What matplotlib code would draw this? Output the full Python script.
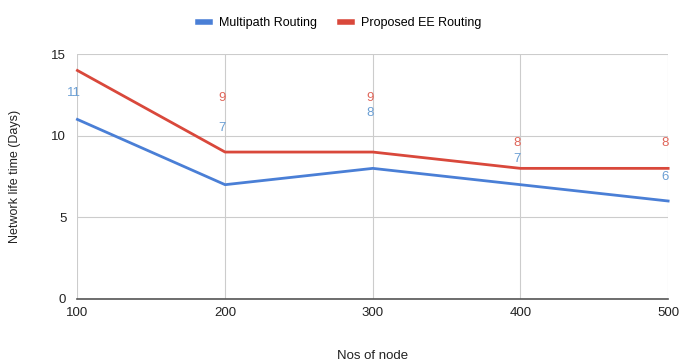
import numpy as np
import matplotlib.pyplot as plt

plt.rcParams["font.family"] = ["Liberation Sans", "DejaVu Sans"]

nodes = [100, 200, 300, 400, 500]
multipath = [11, 7, 8, 7, 6]
proposed = [14, 9, 9, 8, 8]

# label placement above each point (data units)
multipath_lift = [1.6, 3.5, 3.4, 1.6, 1.5]
proposed_lift = [None, 3.3, 3.3, 1.55, 1.55]

BLUE, RED = "#4a7fd6", "#d9483b"
BLUE_TXT, RED_TXT = "#6b9fd4", "#e0665a"

fig = plt.figure(figsize=(6.79, 3.61), dpi=100)
ax = fig.add_axes([0.114, 0.172, 0.870, 0.678])

ax.plot(nodes, multipath, color=BLUE, lw=2, label="Multipath Routing", clip_on=False)
ax.plot(nodes, proposed, color=RED, lw=2, label="Proposed EE Routing", clip_on=False)

for x, v, d in zip(nodes, multipath, multipath_lift):
    ax.text(x - 2, v + d, f"{v}", color=BLUE_TXT, fontsize=9.5, ha="center", va="center")
for x, v, d in zip(nodes, proposed, proposed_lift):
    if d is not None:
        ax.text(x - 2, v + d, f"{v}", color=RED_TXT, fontsize=9.5, ha="center", va="center")

ax.set_xlim(100, 500)
ax.set_ylim(0, 15)
ax.set_xticks(nodes)
ax.set_yticks([0, 5, 10, 15])
ax.grid(color="#cccccc", lw=0.8)
ax.set_axisbelow(True)
for s in ["top", "right", "left"]:
    ax.spines[s].set_visible(False)
ax.spines["bottom"].set_color("#555555")
ax.spines["bottom"].set_linewidth(1.2)
ax.tick_params(length=0, labelsize=9.5, colors="#222222")
ax.tick_params(axis="x", pad=6)
ax.tick_params(axis="y", pad=8)

ax.set_xlabel("Nos of node", fontsize=9.5, labelpad=22, color="#222222")
ax.set_ylabel("Network life time (Days)", fontsize=9, labelpad=22, color="#222222")

fig.legend(loc="upper center", bbox_to_anchor=(0.5, 0.985), ncol=2, frameon=False,
           fontsize=9, handlelength=1.0, handleheight=0.5, columnspacing=1.8,
           handletextpad=0.7)
for h in fig.legends[0].legend_handles:
    h.set_linewidth(4)

fig.savefig("out.png", dpi=100)
